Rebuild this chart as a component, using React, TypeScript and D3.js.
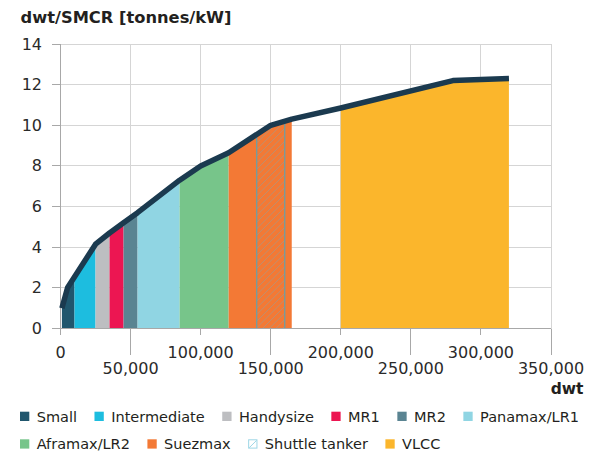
import * as React from "react";
import { useRef, useEffect } from "react";
import * as d3 from "d3";

// ship size bands (dwt ranges)
const bandNames = ["Small", "Intermediate", "Handysize", "MR1", "MR2", "Panamax/LR1", "Aframax/LR2", "Suezmax", "VLCC"];
const bandStart = [0, 10000, 25000, 35000, 45000, 55000, 85000, 120000, 200000];
const bandEnd = [10000, 25000, 35000, 45000, 55000, 85000, 120000, 165000, 320000];
const bandColors = ["#20566d", "#1dbddf", "#bdbec1", "#ec1652", "#5a8492", "#90d5e3", "#77c58a", "#f37935", "#fbb62c"];

// shuttle tanker sits on top of the suezmax band
const shuttleName = "Shuttle tanker";
const shuttleRange = [140000, 160000];

// dwt/SMCR curve
const curveDwt = [1000, 5000, 25000, 35000, 45000, 55000, 85000, 100000, 120000, 150000, 165000, 200000, 280000, 320000];
const curveRatio = [1.0, 2.0, 4.15, 4.7, 5.2, 5.7, 7.3, 8.0, 8.65, 10.0, 10.3, 10.85, 12.2, 12.3];

const yTicks = [0, 2, 4, 6, 8, 10, 12, 14];
const xTicks = [0, 50000, 100000, 150000, 200000, 250000, 300000, 350000];

const legendOrder = ["Small", "Intermediate", "Handysize", "MR1", "MR2", "Panamax/LR1", "Aframax/LR2", "Suezmax", shuttleName, "VLCC"];

const FONT = "'DejaVu Sans', sans-serif";

const Chart = () => {
  const _ref = useRef(null);
  useEffect(() => {
    const el = _ref.current;
    el.innerHTML = "";
    const W = 593, H = 455;
    const left = 60.5, right = 551, top = 44, bottom = 328.5;

    const x = d3.scaleLinear().domain([0, 350000]).range([left, right]);
    const y = d3.scaleLinear().domain([0, 14]).range([bottom, top]);

    const svg = d3.select(el).append("svg")
      .attr("width", W).attr("height", H)
      .style("position", "absolute").style("left", 0).style("top", 0)
      .style("font-family", FONT);

    const pts = curveDwt.map((d, i) => [d, curveRatio[i]]);
    const area = d3.area().x((d) => x(d[0])).y0(y(0)).y1((d) => y(d[1]));
    const line = d3.line().x((d) => x(d[0])).y((d) => y(d[1]));

    const defs = svg.append("defs");
    defs.append("clipPath").attr("id", "under").append("path").attr("d", area(pts));
    bandNames.forEach((n, i) => {
      defs.append("clipPath").attr("id", "band" + i).append("rect")
        .attr("x", x(bandStart[i])).attr("width", x(bandEnd[i]) - x(bandStart[i]))
        .attr("y", 0).attr("height", H);
    });
    defs.append("clipPath").attr("id", "shuttle").append("rect")
      .attr("x", x(shuttleRange[0])).attr("width", x(shuttleRange[1]) - x(shuttleRange[0]))
      .attr("y", 0).attr("height", H);

    // grid
    const grid = svg.append("g").attr("stroke", "#d5d5d5").attr("shape-rendering", "crispEdges");
    yTicks.filter((t) => t > 0).forEach((t) => {
      grid.append("line").attr("x1", left).attr("x2", right).attr("y1", y(t)).attr("y2", y(t));
    });
    xTicks.filter((t) => t > 0).forEach((t) => {
      grid.append("line").attr("x1", x(t)).attr("x2", x(t)).attr("y1", top).attr("y2", bottom);
    });

    // bands
    bandNames.forEach((n, i) => {
      svg.append("path").attr("d", area(pts)).attr("fill", bandColors[i])
        .attr("clip-path", `url(#band${i})`);
    });

    // shuttle tanker hatching
    const sx0 = x(shuttleRange[0]), sx1 = x(shuttleRange[1]);
    const hatch = svg.append("g").attr("clip-path", "url(#shuttle)")
      .append("g").attr("clip-path", "url(#under)")
      .attr("stroke", "#8fa3a0").attr("stroke-opacity", 0.7).attr("stroke-width", 0.8);
    d3.range(sx0 - (bottom - top), sx1, 6.6).forEach((hx) => {
      hatch.append("line").attr("x1", hx).attr("y1", bottom).attr("x2", hx + (bottom - top)).attr("y2", top);
    });
    const edges = svg.append("g").attr("clip-path", "url(#under)");
    shuttleRange.forEach((d) => {
      edges.append("line").attr("x1", x(d)).attr("x2", x(d)).attr("y1", top).attr("y2", bottom)
        .attr("stroke", "#6f9ea2").attr("stroke-width", 1.3);
    });

    // axes
    const ax = svg.append("g").attr("stroke", "#a8a8a8").attr("shape-rendering", "crispEdges");
    ax.append("line").attr("x1", left).attr("x2", left).attr("y1", top).attr("y2", bottom);
    ax.append("line").attr("x1", left).attr("x2", right).attr("y1", bottom).attr("y2", bottom);
    yTicks.forEach((t) => {
      ax.append("line").attr("x1", left - 8.5).attr("x2", left).attr("y1", y(t)).attr("y2", y(t));
    });
    xTicks.forEach((t, i) => {
      ax.append("line").attr("x1", x(t)).attr("x2", x(t)).attr("y1", bottom)
        .attr("y2", i % 2 ? 355 : bottom + 6.5);
    });

    svg.append("g").selectAll("text").data(yTicks).join("text")
      .attr("x", 42).attr("y", (d) => y(d) + 5.5).attr("text-anchor", "end")
      .attr("font-size", 16).attr("fill", "#2a2a2a").text((d) => d);
    svg.append("g").selectAll("text").data(xTicks).join("text")
      .attr("x", (d) => x(d)).attr("y", (d, i) => (i % 2 ? 374.3 : 357.7)).attr("text-anchor", "middle")
      .attr("font-size", 16).attr("fill", "#2a2a2a").text((d) => d3.format(",")(d));

    // curve
    svg.append("path").datum(pts).attr("d", line).attr("fill", "none")
      .attr("stroke", "#1b3a4f").attr("stroke-width", 5.5).attr("stroke-linejoin", "round");

    // titles
    svg.append("text").attr("x", 20.5).attr("y", 22.7).attr("font-size", 16.3)
      .attr("font-weight", "bold").attr("fill", "#231f20").text("dwt/SMCR [tonnes/kW]");
    svg.append("text").attr("x", 583.5).attr("y", 394).attr("text-anchor", "end").attr("font-size", 15.5)
      .attr("font-weight", "bold").attr("fill", "#231f20").text("dwt");

    // legend
    const lg = svg.append("g");
    let cx = 20;
    legendOrder.forEach((name, i) => {
      if (i === 6) cx = 20;
      const row = i < 6 ? 0 : 1;
      const sy = row ? 439.3 : 411.7;
      const bi = bandNames.indexOf(name);
      if (bi >= 0) {
        lg.append("rect").attr("x", cx).attr("y", sy).attr("width", 9.3).attr("height", 9.3).attr("fill", bandColors[bi]);
      } else {
        lg.append("rect").attr("x", cx + 0.5).attr("y", sy + 0.5).attr("width", 8.3).attr("height", 8.3)
          .attr("fill", "#fff").attr("stroke", "#9dd6e6").attr("stroke-width", 1);
        lg.append("line").attr("x1", cx + 1).attr("y1", sy + 8.5).attr("x2", cx + 8.5).attr("y2", sy + 1)
          .attr("stroke", "#9dd6e6").attr("stroke-width", 1);
      }
      const t = lg.append("text").attr("x", cx + 16.7).attr("y", sy + 10)
        .attr("font-size", 14.5).attr("fill", "#231f20").text(name);
      cx += 16.7 + t.node().getComputedTextLength() + 17.5;
    });
  }, []);
  return <div ref={_ref}></div>;
};

export default function App() {
  return <Chart />;
}
